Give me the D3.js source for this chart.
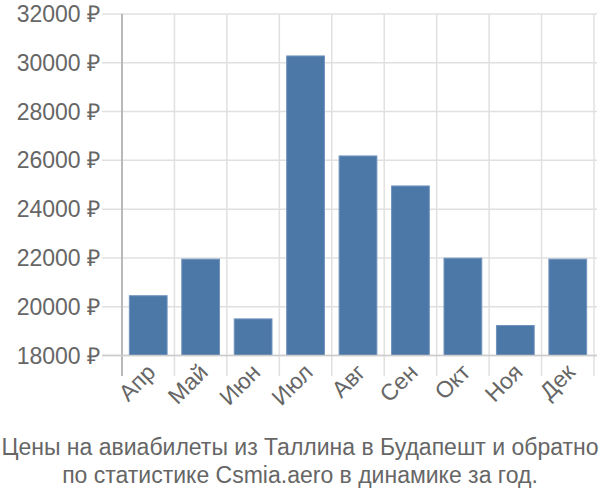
<!DOCTYPE html>
<meta charset="utf-8">
<style>
  body { margin: 0; background: #fff; }
  text { font-family: "Liberation Sans", Arial, sans-serif; fill: #666; }
  .grid line { stroke: #e0e0e0; stroke-width: 1.5px; }
</style>
<body>
<svg width="600" height="500"></svg>
<script src="https://cdn.jsdelivr.net/npm/d3@7/dist/d3.min.js"></script>
<script>
  var months = ["Апр", "Май", "Июн", "Июл", "Авг", "Сен", "Окт", "Ноя", "Дек"];
  var prices = [20450, 21950, 19500, 30280, 26180, 24950, 21990, 19230, 21950];
  var yTicks = [18000, 20000, 22000, 24000, 26000, 28000, 30000, 32000];
  var titleLines = ["Цены на авиабилеты из Таллина в Будапешт и обратно",
                    "по статистике Csmia.aero в динамике за год."];

  var svg = d3.select("svg");
  var plotL = 122, plotR = 594, plotT = 14, plotB = 355.5;

  var x = d3.scaleBand().domain(months).range([plotL, plotR]).paddingInner(0.28).paddingOuter(0.14);
  var y = d3.scaleLinear().domain([18000, 32000]).range([plotB, plotT]);

  // horizontal grid
  svg.append("g").attr("class", "grid")
    .selectAll("line").data(yTicks).enter().append("line")
      .attr("x1", 102).attr("x2", 597)
      .attr("y1", function(d) { return y(d); })
      .attr("y2", function(d) { return y(d); });

  // vertical grid at band edges
  var edges = d3.range(months.length + 1).map(function(i) { return plotL + i * x.step(); });
  svg.append("g").attr("class", "grid")
    .selectAll("line").data(edges).enter().append("line")
      .attr("x1", function(d) { return d; }).attr("x2", function(d) { return d; })
      .attr("y1", plotT).attr("y2", 376);

  // bars
  svg.append("g").selectAll("rect").data(prices).enter().append("rect")
    .attr("x", function(d, i) { return x(months[i]); })
    .attr("width", x.bandwidth())
    .attr("y", function(d) { return y(d); })
    .attr("height", function(d) { return plotB - y(d); })
    .attr("fill", "#4c78a8")
    .attr("stroke", "#6f93bd").attr("stroke-width", 1);

  // axes lines
  svg.append("line").attr("x1", plotL).attr("x2", plotL).attr("y1", plotT).attr("y2", 376)
    .attr("stroke", "#aaa").attr("stroke-width", 1.5);
  svg.append("line").attr("x1", 102).attr("x2", 597).attr("y1", plotB).attr("y2", plotB)
    .attr("stroke", "#ccc").attr("stroke-width", 1.5);

  // y labels
  svg.append("g").selectAll("text").data(yTicks).enter().append("text")
    .attr("x", 100).attr("y", function(d) { return y(d); })
    .attr("dy", "0.35em").attr("text-anchor", "end")
    .style("font-size", "23px")
    .text(function(d) { return d + " ₽"; });

  // x labels
  svg.append("g").selectAll("text").data(months).enter().append("text")
    .attr("transform", function(d) {
      return "translate(" + (x(d) + x.bandwidth() / 2 + 3) + "," + 368 + ") rotate(-45)";
    })
    .attr("text-anchor", "end").attr("dy", "0.35em")
    .style("font-size", "23px")
    .text(function(d) { return d; });

  // title
  svg.append("g").selectAll("text").data(titleLines).enter().append("text")
    .attr("x", 300).attr("y", function(d, i) { return 455 + i * 28; })
    .attr("text-anchor", "middle")
    .style("font-size", "23px")
    .text(function(d) { return d; });
</script>
</body>
